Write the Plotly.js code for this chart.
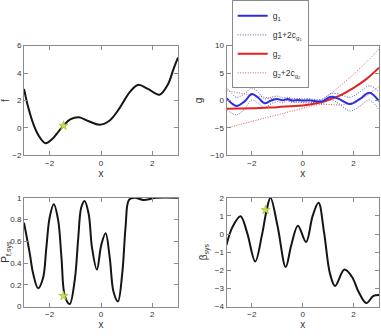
<!DOCTYPE html>
<html>
<head>
<meta charset="utf-8">
<script src="https://cdn.plot.ly/plotly-3.0.1.min.js"></script>
<style>
  html, body { margin: 0; padding: 0; background: #fff; }
  #chart { width: 381px; height: 336px; }
</style>
</head>
<body>
<div id="chart"></div>
<script>
// Objective f(x)
const fX = [-3, -2.83, -2.62, -2.42, -2.17, -1.91, -1.65, -1.46, -1.2, -0.86, -0.5, -0.05, 0.34, 0.73, 1.12, 1.44, 1.83, 2.28, 2.61, 2.83, 3];
const fY = [2.85, 1.47, 0.21, -0.58, -1.11, -0.82, -0.24, 0.17, 0.62, 0.79, 0.51, 0.24, 0.55, 1.47, 2.61, 3.14, 2.85, 2.43, 3.19, 4.33, 5.13];

// Constraint g1 with its +/- 2c band
const g1X = [-3, -2.8, -2.6, -2.3, -2.0, -1.75, -1.5, -1.25, -1.0, -0.8, -0.6, -0.4, -0.2, 0, 0.2, 0.4, 0.6, 0.8, 1.0, 1.15, 1.4, 1.87, 2.25, 2.62, 3.0];
const g1Y = [0.45, -0.5, -1.0, -0.2, 1.2, 0.5, -0.5, 0.0, 0.3, 0.05, 0.3, 0.0, 0.1, 0.0, 0.05, -0.05, -0.15, -0.1, 0.5, 0.7, 0.35, -0.65, 0.3, 1.42, -0.1];
const g1Up = [2.4, 1.3, 0.6, 1.2, 2.3, 1.5, 0.3, 0.6, 0.8, 0.5, 0.6, 0.35, 0.4, 0.3, 0.35, 0.25, 0.15, 0.3, 1.0, 1.3, 1.2, 0.6, 1.6, 2.7, 1.6];
const g1Lo = [-1.6, -2.3, -2.6, -1.6, 0.1, -0.5, -1.3, -0.6, -0.2, -0.4, 0.0, -0.35, -0.2, -0.3, -0.25, -0.35, -0.45, -0.5, 0.0, 0.1, -0.5, -1.9, -1.0, 0.1, -1.8];

// Constraint g2 with its +/- 2c band
const g2X = [-3, -2.5, -2, -1.5, -1, -0.5, 0, 0.5, 1.0, 1.5, 2.0, 2.5, 3.0];
const g2Y = [-1.5, -1.45, -1.4, -1.3, -1.2, -1.05, -0.9, -0.55, 0.1, 1.0, 2.3, 3.9, 6.0];
const g2Up = [1.8, 1.4, 1.0, 0.6, 0.2, -0.1, -0.4, -0.3, 0.9, 2.8, 4.8, 7.0, 9.4];
const g2Lo = [-5.0, -4.4, -3.8, -3.2, -2.6, -2.0, -1.4, -0.8, -0.7, -0.8, -0.2, 0.8, 2.6];

// System failure probability
const pX = [-3, -2.77, -2.65, -2.45, -2.26, -2.13, -2.0, -1.84, -1.67, -1.54, -1.41, -1.22, -1.02, -0.89, -0.77, -0.64, -0.48, -0.35, -0.16, 0.01, 0.18, 0.34, 0.49, 0.66, 0.83, 0.96, 1.09, 1.31, 1.66, 2.15, 3];
const pY = [0.77, 0.48, 0.31, 0.168, 0.26, 0.54, 0.82, 0.94, 0.795, 0.45, 0.098, 0.023, 0.25, 0.62, 0.91, 0.97, 0.85, 0.54, 0.34, 0.565, 0.674, 0.45, 0.133, 0.047, 0.31, 0.74, 0.98, 1.0, 0.98, 1.0, 1.0];

// System reliability index
const bX = [-3, -2.78, -2.45, -2.19, -1.87, -1.61, -1.42, -1.27, -0.99, -0.67, -0.45, -0.19, 0.13, 0.39, 0.62, 0.84, 1.07, 1.27, 1.64, 1.94, 2.2, 2.5, 2.78, 3];
const bY = [-0.61, 0.34, 0.98, 0.08, -1.51, -0.09, 1.33, 2.0, 0.43, -1.82, -0.61, 0.46, -0.44, 1.0, 1.72, 0.08, -2.17, -2.86, -1.96, -2.37, -3.2, -3.81, -3.41, -3.36];

// Selected design point
const optX = [-1.46];
const optF = [0.17];
const optP = [0.098];
const optB = [1.33];

// Tick values
const xTicks = [-2, 0, 2];
const fTicks = [-2, 0, 2, 4, 6];
const gTicks = [-10, -5, 0, 5, 10];
const pTicks = [0, 0.2, 0.4, 0.6, 0.8, 1];
const bTicks = [-4, -3, -2, -1, 0, 1, 2];

const W = 381, H = 336;
const BLACK = '#151515';
const BLUE = 'rgb(45,45,225)';
const RED = 'rgb(225,35,35)';
const BLUE_DOT = 'rgb(90,90,190)';
const RED_DOT = 'rgb(215,90,100)';
const STAR = 'rgb(205,222,70)';
const FRAME = '#8a8a8a';
const TXT = '#333';

const curve = (x, y, xa, ya) => ({
  x, y, xaxis: xa, yaxis: ya, type: 'scatter', mode: 'lines',
  line: { color: BLACK, width: 2, shape: 'spline', smoothing: 1 },
  showlegend: false, hoverinfo: 'skip'
});
const star = (x, y, xa, ya) => ({
  x, y, xaxis: xa, yaxis: ya, type: 'scatter', mode: 'markers',
  marker: { symbol: 'star', size: 7, color: STAR, line: { color: 'rgb(150,165,40)', width: 0.5 } },
  showlegend: false, hoverinfo: 'skip'
});
const band = (x, y, color, name, show, rank) => ({
  x, y, xaxis: 'x2', yaxis: 'y2', type: 'scatter', mode: 'lines', name,
  line: { color, width: 1, dash: '1px,1.5px', shape: 'spline' },
  showlegend: show, legendrank: rank, hoverinfo: 'skip'
});
const solid = (x, y, color, name, rank) => ({
  x, y, xaxis: 'x2', yaxis: 'y2', type: 'scatter', mode: 'lines', name,
  line: { color, width: 2, shape: 'spline' },
  showlegend: true, legendrank: rank, hoverinfo: 'skip'
});

const data = [
  curve(fX, fY, 'x', 'y'),
  star(optX, optF, 'x', 'y'),

  band(g2X, g2Up, RED_DOT, 'g<sub>2</sub>+2c<sub>g<sub>2</sub></sub>', true, 4),
  band(g2X, g2Lo, RED_DOT, 'lower g2', false, 6),
  band(g1X, g1Up, BLUE_DOT, 'g1+2c<sub>g<sub>1</sub></sub>', true, 2),
  band(g1X, g1Lo, BLUE_DOT, 'lower g1', false, 5),
  solid(g2X, g2Y, RED, 'g<sub>2</sub>', 3),
  solid(g1X, g1Y, BLUE, 'g<sub>1</sub>', 1),

  curve(pX, pY, 'x3', 'y3'),
  star(optX, optP, 'x3', 'y3'),

  curve(bX, bY, 'x4', 'y4'),
  star(optX, optB, 'x4', 'y4')
];

const colL = [24 / W, 178 / W];
const colR = [226.5 / W, 379 / W];
const rowT = [1 - 144 / H, 1 - 27.3 / H];
const rowB = [1 - 304.7 / H, 1 - 189 / H];

const axBase = {
  showline: true, linecolor: FRAME, linewidth: 1, mirror: 'ticks',
  ticks: 'inside', ticklen: 4, tickcolor: FRAME, tickwidth: 1,
  showgrid: false, zeroline: false, automargin: false,
  tickfont: { size: 8, color: TXT }
};
const xAx = (dom, anchor) => Object.assign({}, axBase, {
  domain: dom, anchor, range: [-3, 3], tickvals: xTicks,
  title: { text: 'x', font: { size: 10, color: TXT }, standoff: 0 }
});
const yAx = (dom, anchor, range, tickvals, label, standoff) => Object.assign({}, axBase, {
  domain: dom, anchor, range, tickvals,
  title: { text: label, font: { size: 10, color: TXT }, standoff }
});

const layout = {
  width: W, height: H,
  margin: { l: 0, r: 0, t: 0, b: 0 },
  paper_bgcolor: '#fff', plot_bgcolor: '#fff',
  font: { family: 'Liberation Sans, Arial, sans-serif', color: TXT },
  showlegend: true,
  legend: {
    x: 231.7 / W, y: 1 - 72.7 / H, xanchor: 'left', yanchor: 'bottom',
    bgcolor: '#fff', bordercolor: FRAME, borderwidth: 1,
    font: { size: 8.5, color: TXT }, itemwidth: 30, tracegroupgap: 0
  },
  xaxis: xAx(colL, 'y'),
  yaxis: yAx(rowT, 'x', [-2, 6], fTicks, 'f', 6),
  xaxis2: xAx(colR, 'y2'),
  yaxis2: yAx(rowT, 'x2', [-10, 10], gTicks, 'g', 5),
  xaxis3: xAx(colL, 'y3'),
  yaxis3: yAx(rowB, 'x3', [0, 1], pTicks, 'P<sub>f,sys</sub>', 5),
  xaxis4: xAx(colR, 'y4'),
  yaxis4: yAx(rowB, 'x4', [-4, 2], bTicks, 'β<sub>sys</sub>', 5)
};

Plotly.newPlot('chart', data, layout, { staticPlot: true, displayModeBar: false });
</script>
</body>
</html>
